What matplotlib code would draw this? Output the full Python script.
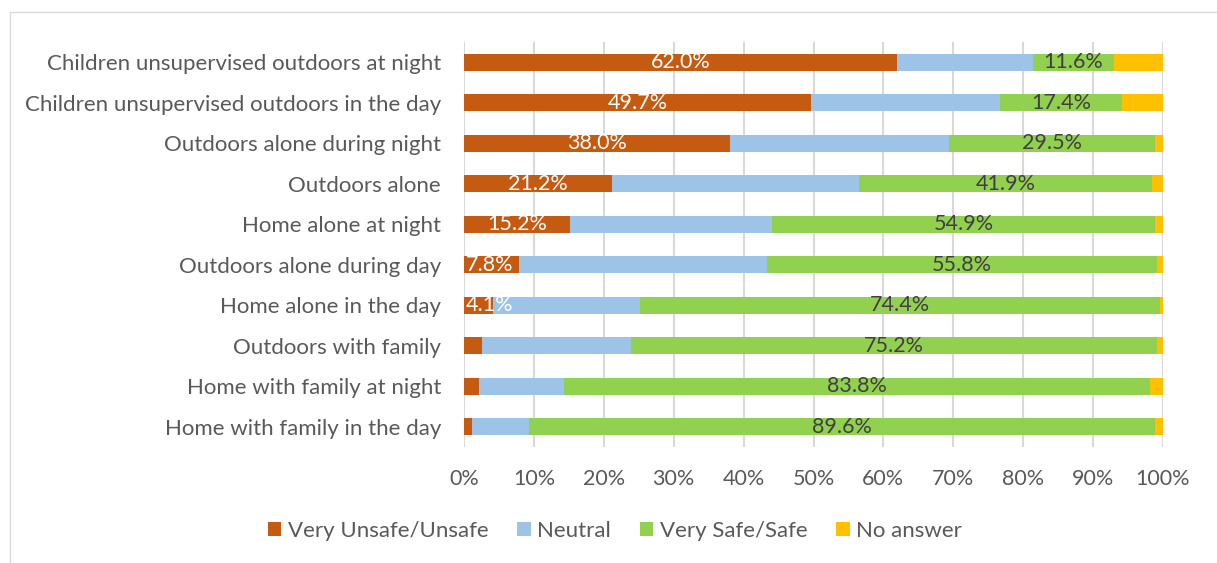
import matplotlib.pyplot as plt
from matplotlib.patches import Rectangle

# categories listed bottom -> top
categories = ["Home with family in the day", "Home with family at night",
              "Outdoors with family", "Home alone in the day",
              "Outdoors alone during day", "Home alone at night",
              "Outdoors alone", "Outdoors alone during night",
              "Children unsupervised outdoors in the day",
              "Children unsupervised outdoors at night"]

unsafe = [1.2, 2.2, 2.6, 4.1, 7.8, 15.2, 21.2, 38.0, 49.7, 62.0]
neutral = [8.1, 12.1, 21.3, 21.1, 35.5, 28.8, 35.3, 31.4, 27.0, 19.4]
safe = [89.6, 83.8, 75.2, 74.4, 55.8, 54.9, 41.9, 29.5, 17.4, 11.6]
no_answer = [1.1, 1.9, 0.9, 0.4, 0.9, 1.1, 1.6, 1.1, 5.9, 7.0]

series = ["Very Unsafe/Unsafe", "Neutral", "Very Safe/Safe", "No answer"]
colors = ["#C55A11", "#9DC3E6", "#92D050", "#FFC000"]

plt.rcParams['font.family'] = ['Lato', 'DejaVu Sans']
txt = "#595959"

fig = plt.figure(figsize=(12.17, 5.63), dpi=100)
ax = fig.add_axes([464 / 1217, 1 - 447 / 563, 699 / 1217, 405 / 563])

# thin outer border
fig.patches.append(Rectangle((10 / 1217, -0.1), 1.2, 1 - 12 / 563 + 0.1,
                             transform=fig.transFigure, fill=False,
                             edgecolor="#D9D9D9", linewidth=1))

y = list(range(len(categories)))
left = [0] * len(categories)
bars = []
for vals, name, col in zip([unsafe, neutral, safe, no_answer], series, colors):
    b = ax.barh(y, vals, left=left, height=0.42, color=col, label=name, zorder=3)
    bars.append(b)
    left = [l + v for l, v in zip(left, vals)]

# data labels: unsafe (white, only >= 4%) and safe (dark)
for i in y:
    v = unsafe[i]
    if v >= 4:
        if v < 9:
            ax.text(0.2, i, f"{v:.1f}%", color="white", fontsize=15.5,
                    ha="left", va="center", zorder=4)
        else:
            ax.text(v / 2, i, f"{v:.1f}%", color="white", fontsize=15.5,
                    ha="center", va="center", zorder=4)
    s0 = unsafe[i] + neutral[i]
    ax.text(s0 + safe[i] / 2, i, f"{safe[i]:.1f}%", color="#404040",
            fontsize=15.5, ha="center", va="center", zorder=4)

ax.set_xlim(0, 100)
ax.set_ylim(-0.5, 9.5)
ax.set_xticks(range(0, 101, 10))
ax.set_xticklabels([f"{t}%" for t in range(0, 101, 10)])
ax.set_yticks(y)
ax.set_yticklabels(categories)
ax.tick_params(axis="both", length=0, colors=txt)
ax.tick_params(axis="x", pad=16, labelsize=15.5)
ax.tick_params(axis="y", pad=16.5, labelsize=16)
ax.grid(axis="x", color="#D9D9D9", linewidth=1.5, zorder=0)
for sp in ax.spines.values():
    sp.set_visible(False)

leg = fig.legend(handles=bars, labels=series, loc="center",
                 bbox_to_anchor=(615 / 1217, 1 - 531 / 563), ncol=4,
                 frameon=False, fontsize=16, handlelength=0.6,
                 handleheight=0.6, handletextpad=0.3, columnspacing=1.3)
for t in leg.get_texts():
    t.set_color(txt)

fig.savefig("out.png", dpi=100)
